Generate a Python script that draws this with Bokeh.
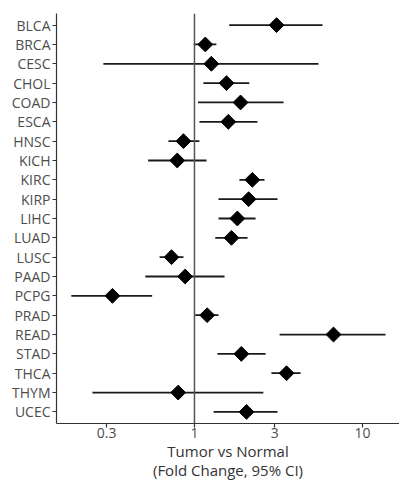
import numpy as np
from bokeh.plotting import figure
from bokeh.models import FixedTicker, Span, Range1d, ColumnDataSource, Title
from bokeh.embed import file_html
from bokeh.resources import INLINE

cancers = ["BLCA", "BRCA", "CESC", "CHOL", "COAD", "ESCA", "HNSC", "KICH", "KIRC", "KIRP",
           "LIHC", "LUAD", "LUSC", "PAAD", "PCPG", "PRAD", "READ", "STAD", "THCA", "THYM", "UCEC"]
fold_change = [3.08, 1.16, 1.26, 1.55, 1.88, 1.59, 0.86, 0.79, 2.21, 2.10,
               1.80, 1.66, 0.73, 0.88, 0.325, 1.19, 6.72, 1.90, 3.53, 0.80, 2.04]
ci_low = [1.61, 0.99, 0.287, 1.13, 1.05, 1.07, 0.70, 0.53, 1.85, 1.39,
          1.39, 1.33, 0.62, 0.51, 0.185, 1.01, 3.21, 1.37, 2.87, 0.247, 1.30]
ci_high = [5.78, 1.35, 5.47, 2.12, 3.39, 2.37, 1.07, 1.18, 2.61, 3.12,
           2.31, 2.07, 0.86, 1.51, 0.56, 1.39, 13.7, 2.65, 4.28, 2.57, 3.12]
x_ticks = [0.3, 1, 3, 10]
x_tick_labels = ["0.3", "1", "3", "10"]
x_title = ["Tumor vs Normal", "(Fold Change, 95% CI)"]

n = len(cancers)
ypos = [n - i for i in range(n)]

src = ColumnDataSource(dict(y=ypos, fc=fold_change, lo=ci_low, hi=ci_high, name=cancers))

FONT = "Open Sans"

p = figure(width=399, height=480, x_axis_type="log", output_backend="svg",
           toolbar_location=None, x_range=Range1d(0.151, 16.6),
           y_range=Range1d(0.4, n + 0.6),
           min_border_left=56, min_border_top=13, min_border_bottom=57, min_border_right=0)
p.outline_line_color = None
p.xgrid.visible = False
p.ygrid.visible = False
p.background_fill_color = "white"
p.border_fill_color = "white"

p.add_layout(Span(location=1, dimension="height", line_color="#555555", line_width=1.5))

p.segment(x0="lo", x1="hi", y0="y", y1="y", source=src, line_color="#1a1a1a", line_width=1.8)
p.scatter(x="fc", y="y", source=src, marker="square", angle=np.pi / 4, size=10.5,
          fill_color="black", line_color="black")

xa = p.xaxis[0]
xa.ticker = FixedTicker(ticks=x_ticks)
xa.major_label_overrides = {t: l for t, l in zip(x_ticks, x_tick_labels)}

ya = p.yaxis[0]
ya.ticker = FixedTicker(ticks=ypos)
ya.major_label_overrides = {y: c for y, c in zip(ypos, cancers)}

for ax in (xa, ya):
    ax.axis_line_color = "#333333"
    ax.axis_line_width = 1.2
    ax.major_tick_line_color = "#333333"
    ax.major_tick_line_width = 1.2
    ax.major_tick_out = 4
    ax.major_tick_in = 0
    ax.minor_tick_line_color = None
    ax.major_label_text_font = FONT
    ax.major_label_text_font_size = "14px"
    ax.major_label_text_color = "#4d4d4d"
ya.major_label_standoff = 2
xa.major_label_standoff = 0

for t in x_title:
    p.add_layout(Title(text=t, align="center", text_font=FONT, text_font_size="15px",
                       text_font_style="normal", text_color="#333333",
                       standoff=-3, offset=0, text_line_height=0.9), "below")

open("out.html", "w").write(file_html(p, INLINE))
